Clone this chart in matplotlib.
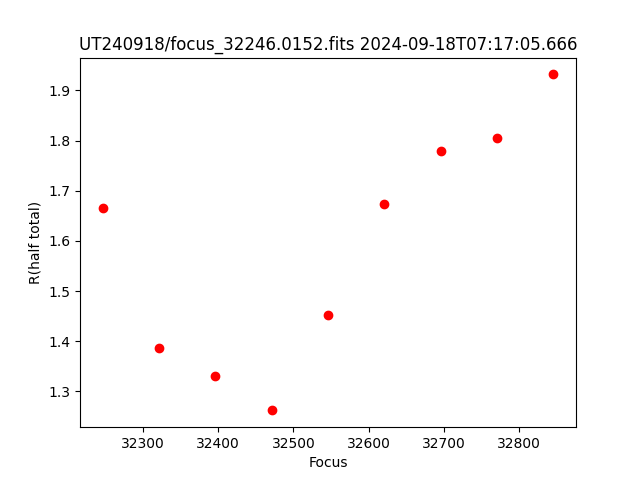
import numpy as np
import matplotlib
matplotlib.use('Agg')
import matplotlib.pyplot as plt

focus = [32246, 32321, 32396, 32471, 32546, 32621, 32696, 32771, 32846]
rhalf = [1.666, 1.386, 1.330, 1.262, 1.453, 1.673, 1.780, 1.806, 1.932]

fig, ax = plt.subplots(figsize=(6.4, 4.8), dpi=100)
ax.plot(focus, rhalf, 'ro')
ax.set_xlabel('Focus')
ax.set_ylabel('R(half total)')
ax.set_title('UT240918/focus_32246.0152.fits 2024-09-18T07:17:05.666')
fig.savefig('out.png')
